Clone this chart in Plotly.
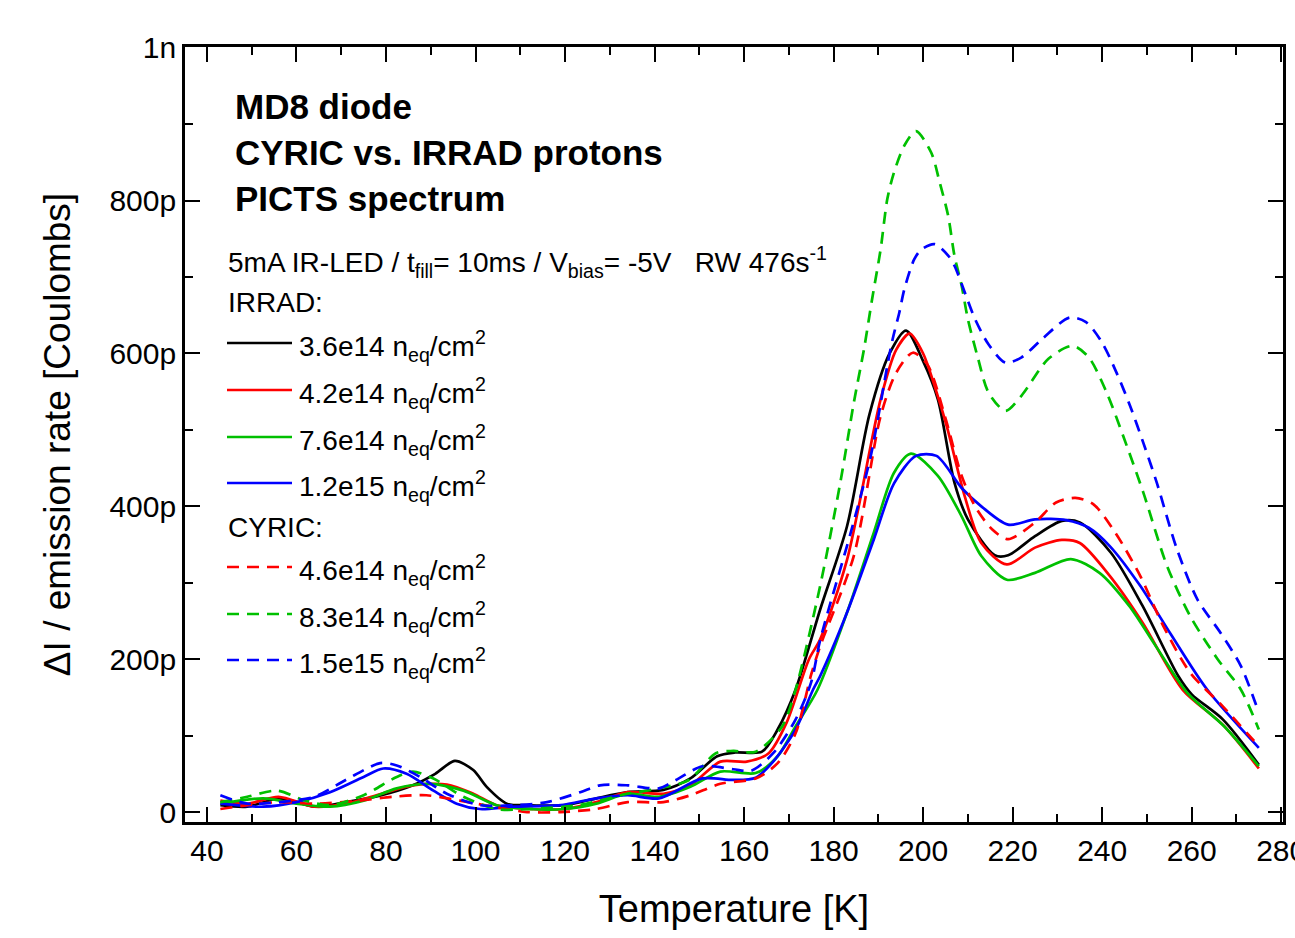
import plotly.graph_objects as go

# ---------------- data (Temperature [K], signal in pC) ----------------
T_irrad_36 = [43, 49, 56, 60, 64, 71, 79, 86, 91, 95.4, 99.5, 102.5, 107, 112, 120, 127, 134, 142, 148,
              154, 158, 164, 167.5, 171.5, 177, 183, 188, 192.5, 196.2, 200, 203.3, 207, 210, 216, 219,
              225, 231, 235, 242, 249, 257, 260, 267, 275]
V_irrad_36 = [9, 7, 18, 13, 7, 13, 22, 35, 50, 67, 55, 33, 11, 9, 9, 18, 26, 29, 44,
              73, 78, 79, 108, 160, 265, 374, 520, 600, 630, 590, 540, 431, 383, 336, 336,
              361, 381, 379, 339, 270, 178, 154, 121, 62]

T_irrad_42 = [43, 49, 56, 64, 71, 79, 86, 93.6, 99.5, 104.7, 112, 120, 127, 134, 142, 148, 154.7, 160.6,
              165.5, 169.5, 174.5, 177, 183, 190.5, 194, 197, 200, 203.5, 205.5, 209.3, 213, 218.7, 225,
              231, 235, 241.7, 249, 258, 267, 275]
V_irrad_42 = [15, 11, 20, 7, 11, 24, 35, 36, 24, 9, 4, 4, 13, 26, 24, 35, 66, 66,
              77, 117, 200, 226, 330, 540, 605, 626, 600, 540, 500, 413, 352, 324, 346,
              356, 352, 309, 248, 160, 114, 57]

T_irrad_76 = [43, 52.6, 60, 67.5, 75, 82.4, 89.8, 97.3, 104.7, 112, 120, 127, 134, 141, 148, 154.7, 162.6,
              167.5, 171.5, 176.4, 183, 189, 193.5, 197.3, 203.3, 208.6, 213, 218.7, 225, 233, 239.4,
              246, 252, 259, 267.3, 275]
V_irrad_76 = [11, 18, 11, 7, 15, 31, 37, 28, 9, 4, 4, 11, 24, 20, 33, 53, 51,
              73, 112, 160, 261, 366, 444, 469, 440, 387, 335, 304, 313, 331, 313,
              270, 217, 156, 112, 60]

T_irrad_120 = [43, 52.6, 60, 67.5, 75, 79.4, 84.6, 90.6, 95.8, 101, 108, 119, 127, 134, 141, 150.7, 157.6,
               162.6, 166.5, 171.5, 175.4, 177, 183, 189, 193.5, 198.4, 203, 208.6, 213, 219, 225, 232,
               237, 241.7, 248.5, 255.2, 263.5, 275]
V_irrad_120 = [11, 7, 13, 26, 46, 57, 50, 28, 11, 4, 7, 9, 18, 22, 18, 44, 42,
               45, 66, 108, 160, 178, 261, 357, 430, 466, 466, 424, 400, 376, 383, 382,
               372, 348, 296, 234, 160, 84]

T_cyric_46 = [43, 49, 56, 64.5, 74, 81.5, 89, 96.5, 104, 111.5, 119, 127, 134, 142, 148, 154.7, 162.6,
              167.5, 171.5, 175, 177, 184.5, 190.5, 194, 197.7, 201, 205, 208.6, 211.6, 215.4, 219, 225,
              229.7, 234, 238, 243, 248.5, 253.7, 259.7, 267, 275]
V_cyric_46 = [4, 9, 13, 11, 15, 20, 22, 15, 7, 0, 0, 4, 13, 13, 22, 37, 44,
              64, 103, 180, 217, 335, 518, 575, 601, 585, 515, 440, 400, 370, 357, 379,
              405, 411, 403, 365, 309, 243, 182, 138, 86]

T_cyric_83 = [43, 49, 55.6, 62, 67.5, 75, 82.4, 86, 90.6, 97.3, 104.7, 112, 123, 134, 141, 147.7, 153.7,
              157.6, 162.6, 168.5, 171.5, 177, 181.5, 184.5, 186.8, 188.6, 190.5, 192, 193.5, 195.8,
              198.4, 201.8, 203.7, 205.6, 207, 208.6, 210, 212.3, 214.6, 218.4, 222, 228, 233.4, 237,
              241, 244.7, 249.2, 254.5, 259.7, 265.8, 271, 275]
V_cyric_83 = [13, 20, 28, 15, 9, 22, 46, 53, 44, 20, 4, 4, 9, 24, 31, 42, 77,
              80, 79, 112, 160, 296, 431, 535, 606, 671, 736, 802, 837, 872,
              891, 863, 824, 780, 728, 689, 645, 593, 549, 525, 545, 593, 610, 595,
              549, 492, 418, 322, 256, 200, 160, 108]

T_cyric_150 = [43, 49, 56, 64, 71, 78.7, 82.4, 87.6, 93.6, 101, 108.5, 116, 123.4, 127.8, 134, 141, 144.8,
               150.7, 157.6, 161.6, 166.5, 171.5, 175, 177, 183.8, 188.3, 192, 193.2, 194.7, 195.8, 198,
               199.6, 202.6, 205.6, 207, 209.3, 211.6, 214.6, 218.4, 222, 226.6, 232.7, 236.4, 240,
               243.2, 246.2, 249.2, 252.2, 256.7, 261.3, 266.5, 271, 275]
V_cyric_150 = [22, 11, 13, 20, 42, 64, 61, 46, 24, 9, 9, 13, 26, 35, 35, 31, 42,
               60, 56, 54, 77, 121, 170, 225, 365, 466, 584, 619, 654, 684, 723,
               736, 743, 728, 715, 680, 645, 612, 588, 595, 619, 647, 641, 614,
               575, 532, 483, 431, 344, 278, 234, 191, 130]

series_labels = ["3.6e14", "4.2e14", "7.6e14", "1.2e15", "4.6e14", "8.3e14", "1.5e15"]
series_groups = ["IRRAD", "IRRAD", "IRRAD", "IRRAD", "CYRIC", "CYRIC", "CYRIC"]

x_ticks = [40, 60, 80, 100, 120, 140, 160, 180, 200, 220, 240, 260, 280]
y_tickvals = [0, 200, 400, 600, 800, 1000]
y_ticktext = ["0", "200p", "400p", "600p", "800p", "1n"]

# ---------------- styling ----------------
FONT = "Liberation Sans, Arial, sans-serif"
colors = ["#000000", "#FF0000", "#00C000", "#0000FF", "#FF0000", "#00C000", "#0000FF"]
dashes = ["solid", "solid", "solid", "solid", "12px,8px", "12px,8px", "12px,8px"]
Ts = [T_irrad_36, T_irrad_42, T_irrad_76, T_irrad_120, T_cyric_46, T_cyric_83, T_cyric_150]
Vs = [V_irrad_36, V_irrad_42, V_irrad_76, V_irrad_120, V_cyric_46, V_cyric_83, V_cyric_150]

fig = go.Figure()
for T, V, c, d, lab in zip(Ts, Vs, colors, dashes, series_labels):
    fig.add_trace(go.Scatter(
        x=T, y=V, mode="lines", name=lab, showlegend=False,
        line=dict(color=c, width=2.7, dash=d, shape="spline", smoothing=0.8),
    ))

W, H = 1295, 938
ML, MR, MT, MB = 185, 12, 47, 116
PW, PH = W - ML - MR, H - MT - MB


def px(xp):
    return (xp - ML) / PW


def py(yp):
    return (H - MB - yp) / PH


annotations = []
shapes = []
# bold title block
for txt, yy in [("MD8 diode", 107), ("CYRIC vs. IRRAD protons", 153), ("PICTS spectrum", 198)]:
    annotations.append(dict(text="<b>%s</b>" % txt, x=px(233), y=py(yy), xref="paper", yref="paper",
                            xanchor="left", yanchor="middle", showarrow=False,
                            font=dict(family=FONT, size=35, color="black")))

annotations.append(dict(
    text="5mA IR-LED / t<sub>fill</sub>= 10ms / V<sub>bias</sub>= -5V\u00a0\u00a0\u00a0RW 476s<sup>-1</sup>",
    x=px(226), y=py(262), xref="paper", yref="paper", xanchor="left", yanchor="middle",
    showarrow=False, font=dict(family=FONT, size=28, color="black")))

legend_rows = [("IRRAD:", None, 302), (series_labels[0], 0, 343), (series_labels[1], 1, 390),
               (series_labels[2], 2, 437), (series_labels[3], 3, 483), ("CYRIC:", None, 527),
               (series_labels[4], 4, 567), (series_labels[5], 5, 614), (series_labels[6], 6, 660)]
for lab, idx, yy in legend_rows:
    if idx is None:
        annotations.append(dict(text=lab, x=px(226), y=py(yy), xref="paper", yref="paper",
                                xanchor="left", yanchor="middle", showarrow=False,
                                font=dict(family=FONT, size=28, color="black")))
    else:
        shapes.append(dict(type="line", xref="paper", yref="paper", x0=px(227), x1=px(292),
                           y0=py(yy), y1=py(yy),
                           line=dict(color=colors[idx], width=2.7, dash=dashes[idx])))
        annotations.append(dict(text="%s n<sub>eq</sub>/cm<sup>2</sup>" % lab, x=px(297), y=py(yy + 3),
                                xref="paper", yref="paper", xanchor="left", yanchor="middle",
                                showarrow=False, font=dict(family=FONT, size=28, color="black")))

axis_common = dict(showline=True, linecolor="black", linewidth=2.7, mirror="allticks",
                   ticks="inside", tickcolor="black", tickwidth=2, ticklen=15,
                   showgrid=False, zeroline=False, ticklabeloverflow="allow", automargin=False,
                   tickfont=dict(family=FONT, size=30, color="black"))

fig.update_layout(
    width=W, height=H, paper_bgcolor="white", plot_bgcolor="white",
    margin=dict(l=ML, r=MR, t=MT, b=MB, autoexpand=False),
    xaxis=dict(range=[35.1, 280.4], tickvals=x_ticks,
               minor=dict(ticks="inside", dtick=10, tick0=0, ticklen=8, tickwidth=2, tickcolor="black"),
               title=dict(text="Temperature [K]", font=dict(family=FONT, size=38, color="black"), standoff=30),
               **axis_common),
    yaxis=dict(range=[-13, 1001], tickvals=y_tickvals, ticktext=y_ticktext,
               minor=dict(ticks="inside", dtick=100, tick0=0, ticklen=8, tickwidth=2, tickcolor="black"),
               title=dict(text="\u0394I / emission rate [Coulombs]", font=dict(family=FONT, size=37, color="black"), standoff=28),
               **axis_common),
    annotations=annotations, shapes=shapes, showlegend=False,
)

fig.write_html("out.html")
